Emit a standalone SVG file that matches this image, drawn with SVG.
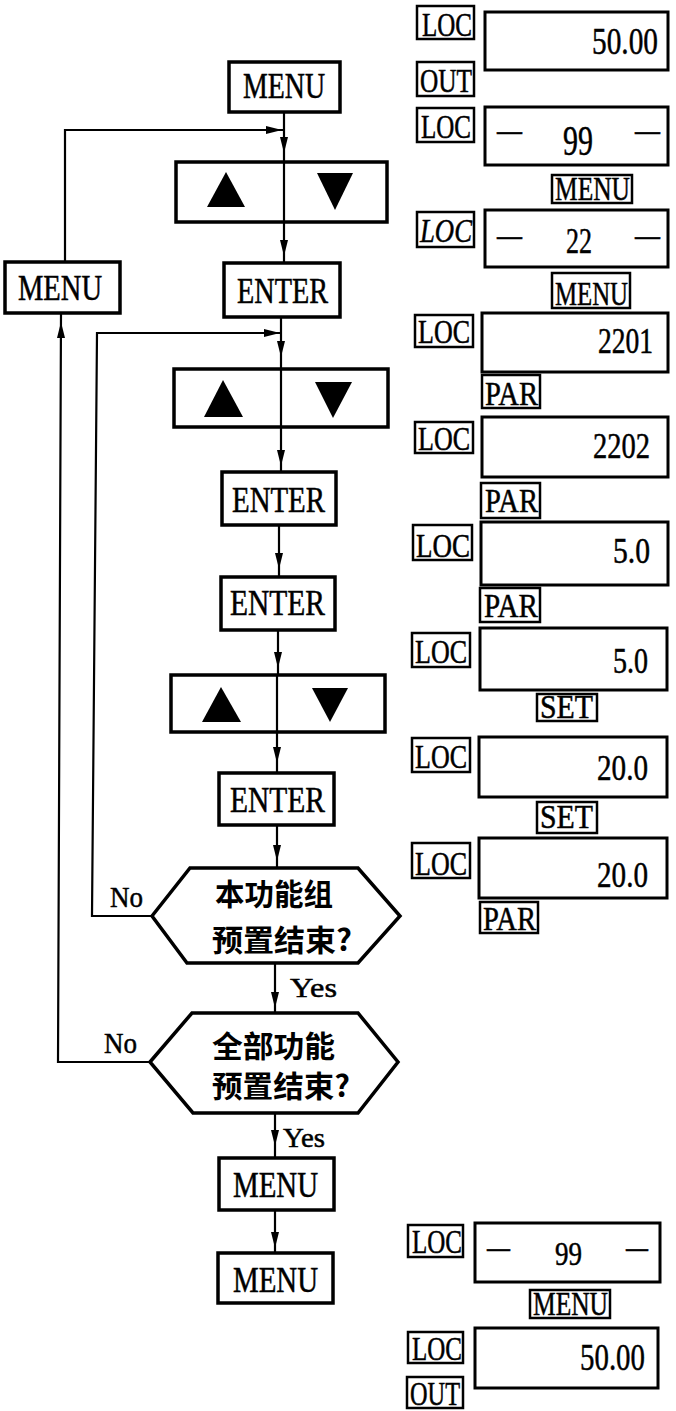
<svg xmlns="http://www.w3.org/2000/svg" xmlns:xlink="http://www.w3.org/1999/xlink" width="676" height="1411" viewBox="0 0 676 1411">
<style>
.btn{fill:#fff;stroke:#000;stroke-width:3.5}
.disp{fill:#fff;stroke:#000;stroke-width:3}
.lbl{fill:#fff;stroke:#000;stroke-width:2.5}
.ln{fill:none;stroke:#000;stroke-width:2.2}
.dv{stroke:#000;stroke-width:2.2}
.tri{fill:#000}
.t{font-family:"Liberation Serif","Times New Roman",serif;fill:#000;stroke:#000;stroke-width:0.5}
.bt{font-size:35px}
.lt{font-size:34px}
.cjk{font-family:"Noto Sans CJK SC","Noto Sans CJK TC",sans-serif;font-size:30px;fill:#000;font-weight:bold}
.ah{fill:#000}
</style>
<defs>
<path id="ah" d="M0,0 L-4,-16 L4,-16 Z"/>
</defs>
<rect width="676" height="1411" fill="#fff"/>

<g id="connectors">
<path class="ln" d="M284,112 V162 M284,222 V263 M281,317 V369 M281,427 V472 M279,525 V577 M278,630 V675 M277,732 V773 M277,825 V868 M275,963 V1013 M275,1113 V1158 M275,1210 V1253"/>
<path class="ln" d="M65,262 V130 H284"/>
<path class="ln" d="M150,1062 H58 L61,313"/>
<path class="ln" d="M152,916 H92 L97,333 H281"/>
<use href="#ah" class="ah" transform="translate(284,153)"/>
<use href="#ah" class="ah" transform="translate(282,130) rotate(-90)"/>
<use href="#ah" class="ah" transform="translate(284,256)"/>
<use href="#ah" class="ah" transform="translate(280,333) rotate(-90)"/>
<use href="#ah" class="ah" transform="translate(281,357)"/>
<use href="#ah" class="ah" transform="translate(281,466)"/>
<use href="#ah" class="ah" transform="translate(279,569)"/>
<use href="#ah" class="ah" transform="translate(278,668)"/>
<use href="#ah" class="ah" transform="translate(277,763)"/>
<use href="#ah" class="ah" transform="translate(277,861)"/>
<use href="#ah" class="ah" transform="translate(275,1008)"/>
<use href="#ah" class="ah" transform="translate(275,1146)"/>
<use href="#ah" class="ah" transform="translate(275,1248)"/>
<use href="#ah" class="ah" transform="translate(61,322) rotate(180)"/>
<text class="t" x="290" y="997" font-size="28" textLength="47" lengthAdjust="spacingAndGlyphs">Yes</text>
<text class="t" x="283" y="1147" font-size="28" textLength="42" lengthAdjust="spacingAndGlyphs">Yes</text>
<text class="t" x="110" y="907" font-size="30" textLength="33" lengthAdjust="spacingAndGlyphs">No</text>
<text class="t" x="104" y="1053" font-size="30" textLength="33" lengthAdjust="spacingAndGlyphs">No</text>
</g>

<g id="menu-top">
<rect class="btn" x="229" y="62" width="111" height="50"/>
<text class="t bt" x="243" y="98" textLength="82" lengthAdjust="spacingAndGlyphs">MENU</text>
</g>
<g id="updown-1">
<rect class="btn" x="176" y="162" width="211" height="60"/>
<line class="dv" x1="284" y1="162" x2="284" y2="222"/>
<polygon class="tri" points="207,207 245,207 226,172"/>
<polygon class="tri" points="317,173 353,173 335,210"/>
</g>
<g id="enter-1">
<rect class="btn" x="224" y="263" width="116" height="54"/>
<text class="t bt" x="237" y="303" textLength="91" lengthAdjust="spacingAndGlyphs">ENTER</text>
</g>
<g id="menu-left">
<rect class="btn" x="5" y="262" width="115" height="51"/>
<text class="t bt" x="18" y="300" textLength="84" lengthAdjust="spacingAndGlyphs">MENU</text>
</g>
<g id="updown-2">
<rect class="btn" x="174" y="369" width="214" height="58"/>
<line class="dv" x1="281" y1="369" x2="281" y2="427"/>
<polygon class="tri" points="204,417 243,417 223,380"/>
<polygon class="tri" points="315,382 352,382 333,418"/>
</g>
<g id="enter-2">
<rect class="btn" x="222" y="472" width="114" height="53"/>
<text class="t bt" x="232" y="512" textLength="93" lengthAdjust="spacingAndGlyphs">ENTER</text>
</g>
<g id="enter-3">
<rect class="btn" x="221" y="577" width="114" height="53"/>
<text class="t bt" x="230" y="615" textLength="95" lengthAdjust="spacingAndGlyphs">ENTER</text>
</g>
<g id="updown-3">
<rect class="btn" x="171" y="675" width="214" height="57"/>
<line class="dv" x1="277" y1="675" x2="277" y2="732"/>
<polygon class="tri" points="202,722 241,722 221,687"/>
<polygon class="tri" points="312,688 348,688 330,722"/>
</g>
<g id="enter-4">
<rect class="btn" x="219" y="773" width="115" height="52"/>
<text class="t bt" x="230" y="812" textLength="95" lengthAdjust="spacingAndGlyphs">ENTER</text>
</g>
<g id="decision-1">
<polygon class="btn" points="152,916 190,868 358,868 400,916 358,963 187,963"/>
<text class="cjk" x="215" y="905" textLength="118" lengthAdjust="spacingAndGlyphs">本功能组</text>
<text class="cjk" x="212" y="951" textLength="140" lengthAdjust="spacingAndGlyphs">预置结束?</text>
</g>
<g id="decision-2">
<polygon class="btn" points="150,1062 192,1013 358,1013 398,1062 358,1113 193,1113"/>
<text class="cjk" x="212" y="1057" textLength="123" lengthAdjust="spacingAndGlyphs">全部功能</text>
<text class="cjk" x="212" y="1097" textLength="138" lengthAdjust="spacingAndGlyphs">预置结束?</text>
</g>
<g id="menu-b1">
<rect class="btn" x="219" y="1158" width="115" height="52"/>
<text class="t bt" x="233" y="1197" textLength="85" lengthAdjust="spacingAndGlyphs">MENU</text>
</g>
<g id="menu-b2">
<rect class="btn" x="218" y="1253" width="115" height="50"/>
<text class="t bt" x="233" y="1292" textLength="85" lengthAdjust="spacingAndGlyphs">MENU</text>
</g>

<g id="display-1">
<rect class="lbl" x="417" y="6" width="57" height="33"/>
<text class="t lt" x="422" y="36" textLength="50" lengthAdjust="spacingAndGlyphs">LOC</text>
<rect class="disp" x="485" y="12" width="183" height="58"/>
<text class="t" font-size="38" x="592" y="54" textLength="66" lengthAdjust="spacingAndGlyphs">50.00</text>
<rect class="lbl" x="417" y="62" width="57" height="34"/>
<text class="t lt" x="420" y="92" textLength="52" lengthAdjust="spacingAndGlyphs">OUT</text>
</g>
<g id="display-2">
<rect class="lbl" x="417" y="108" width="57" height="34"/>
<text class="t lt" x="421" y="138" textLength="50" lengthAdjust="spacingAndGlyphs">LOC</text>
<rect class="disp" x="485" y="107" width="183" height="58"/>
<text class="t" font-size="34" x="497" y="141" textLength="25" lengthAdjust="spacingAndGlyphs">—</text>
<text class="t" font-size="42" x="563" y="155" textLength="30" lengthAdjust="spacingAndGlyphs">99</text>
<text class="t" font-size="34" x="635" y="141" textLength="25" lengthAdjust="spacingAndGlyphs">—</text>
<rect class="lbl" x="552" y="175" width="80" height="28"/>
<text class="t lt" font-size="32" x="555" y="200" textLength="75" lengthAdjust="spacingAndGlyphs">MENU</text>
</g>
<g id="display-3">
<rect class="lbl" x="417" y="212" width="57" height="35"/>
<text class="t lt" font-style="italic" x="420" y="242" textLength="52" lengthAdjust="spacingAndGlyphs">LOC</text>
<rect class="disp" x="485" y="210" width="183" height="57"/>
<text class="t" font-size="34" x="497" y="246" textLength="25" lengthAdjust="spacingAndGlyphs">—</text>
<text class="t" font-size="36" x="566" y="253" textLength="26" lengthAdjust="spacingAndGlyphs">22</text>
<text class="t" font-size="34" x="635" y="246" textLength="25" lengthAdjust="spacingAndGlyphs">—</text>
<rect class="lbl" x="552" y="273" width="78" height="35"/>
<text class="t lt" x="555" y="305" textLength="73" lengthAdjust="spacingAndGlyphs">MENU</text>
</g>
<g id="display-4">
<rect class="lbl" x="415" y="315" width="58" height="32"/>
<text class="t lt" x="418" y="343" textLength="52" lengthAdjust="spacingAndGlyphs">LOC</text>
<rect class="disp" x="482" y="313" width="186" height="59"/>
<text class="t" font-size="35" x="598" y="353" textLength="55" lengthAdjust="spacingAndGlyphs">2201</text>
<rect class="lbl" x="482" y="375" width="58" height="33"/>
<text class="t lt" x="485" y="405" textLength="53" lengthAdjust="spacingAndGlyphs">PAR</text>
</g>
<g id="display-5">
<rect class="lbl" x="415" y="422" width="58" height="31"/>
<text class="t lt" x="418" y="450" textLength="52" lengthAdjust="spacingAndGlyphs">LOC</text>
<rect class="disp" x="482" y="417" width="186" height="60"/>
<text class="t" font-size="36" x="593" y="458" textLength="57" lengthAdjust="spacingAndGlyphs">2202</text>
<rect class="lbl" x="481" y="483" width="59" height="35"/>
<text class="t lt" x="485" y="512" textLength="53" lengthAdjust="spacingAndGlyphs">PAR</text>
</g>
<g id="display-6">
<rect class="lbl" x="413" y="525" width="59" height="35"/>
<text class="t lt" x="416" y="557" textLength="54" lengthAdjust="spacingAndGlyphs">LOC</text>
<rect class="disp" x="481" y="522" width="187" height="63"/>
<text class="t" font-size="35" x="613" y="563" textLength="37" lengthAdjust="spacingAndGlyphs">5.0</text>
<rect class="lbl" x="480" y="588" width="60" height="34"/>
<text class="t lt" x="484" y="617" textLength="54" lengthAdjust="spacingAndGlyphs">PAR</text>
</g>
<g id="display-7">
<rect class="lbl" x="412" y="633" width="58" height="34"/>
<text class="t lt" x="415" y="663" textLength="52" lengthAdjust="spacingAndGlyphs">LOC</text>
<rect class="disp" x="480" y="628" width="187" height="62"/>
<text class="t" font-size="35" x="613" y="673" textLength="35" lengthAdjust="spacingAndGlyphs">5.0</text>
<rect class="lbl" x="537" y="694" width="60" height="27"/>
<text class="t lt" font-size="30" x="540" y="718" textLength="53" lengthAdjust="spacingAndGlyphs">SET</text>
</g>
<g id="display-8">
<rect class="lbl" x="412" y="738" width="58" height="34"/>
<text class="t lt" x="415" y="768" textLength="52" lengthAdjust="spacingAndGlyphs">LOC</text>
<rect class="disp" x="479" y="737" width="188" height="60"/>
<text class="t" font-size="36" x="597" y="780" textLength="51" lengthAdjust="spacingAndGlyphs">20.0</text>
<rect class="lbl" x="537" y="802" width="60" height="31"/>
<text class="t lt" font-size="32" x="540" y="828" textLength="53" lengthAdjust="spacingAndGlyphs">SET</text>
</g>
<g id="display-9">
<rect class="lbl" x="412" y="843" width="58" height="35"/>
<text class="t lt" x="415" y="875" textLength="52" lengthAdjust="spacingAndGlyphs">LOC</text>
<rect class="disp" x="479" y="838" width="188" height="60"/>
<text class="t" font-size="36" x="597" y="887" textLength="51" lengthAdjust="spacingAndGlyphs">20.0</text>
<rect class="lbl" x="480" y="902" width="58" height="31"/>
<text class="t lt" font-size="32" x="483" y="930" textLength="53" lengthAdjust="spacingAndGlyphs">PAR</text>
</g>
<g id="display-10">
<rect class="lbl" x="408" y="1225" width="55" height="32"/>
<text class="t lt" x="412" y="1253" textLength="50" lengthAdjust="spacingAndGlyphs">LOC</text>
<rect class="disp" x="475" y="1223" width="185" height="59"/>
<text class="t" font-size="34" x="487" y="1258" textLength="23" lengthAdjust="spacingAndGlyphs">—</text>
<text class="t" font-size="34" x="555" y="1265" textLength="27" lengthAdjust="spacingAndGlyphs">99</text>
<text class="t" font-size="34" x="626" y="1258" textLength="22" lengthAdjust="spacingAndGlyphs">—</text>
<rect class="lbl" x="530" y="1290" width="80" height="28"/>
<text class="t lt" font-size="32" x="533" y="1315" textLength="75" lengthAdjust="spacingAndGlyphs">MENU</text>
</g>
<g id="display-11">
<rect class="lbl" x="408" y="1332" width="55" height="31"/>
<text class="t lt" x="412" y="1360" textLength="50" lengthAdjust="spacingAndGlyphs">LOC</text>
<rect class="disp" x="475" y="1328" width="183" height="60"/>
<text class="t" font-size="38" x="580" y="1370" textLength="65" lengthAdjust="spacingAndGlyphs">50.00</text>
<rect class="lbl" x="407" y="1377" width="56" height="31"/>
<text class="t lt" font-size="32" x="410" y="1405" textLength="50" lengthAdjust="spacingAndGlyphs">OUT</text>
</g>
</svg>
